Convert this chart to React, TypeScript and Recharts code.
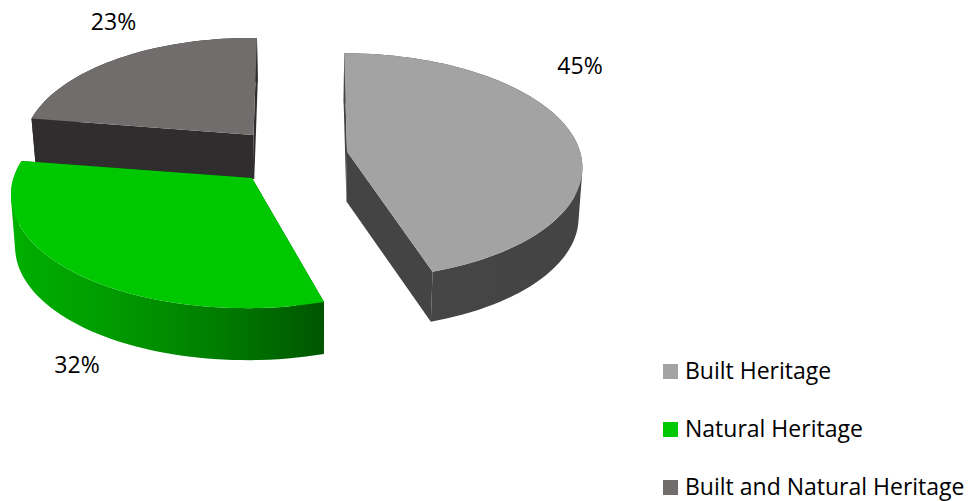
import { Legend, Pie, PieChart } from "recharts";

const categories = ["Built Heritage", "Natural Heritage", "Built and Natural Heritage"];
const shares = [45, 32, 23];

const WIDTH = 974;
const HEIGHT = 501;
const FONT = "'Open Sans', sans-serif";

// how much nearer points of the tilted disc grow, and where verticals converge below it
const PERSPECTIVE = 0.129;
const NADIR_X = 310;
const NADIR_SHRINK = 0.986;

type Look = {
  top: string;
  cut: string;
  wall: string[];
  apexX: number;
  apexY: number;
  horizonX: number;
  scaleX: number;
  scaleY: number;
  tilt: number;
  depth: number;
  labelDx: number;
  labelDy: number;
};

const looks: Record<string, Look> = {
  "Built Heritage": {
    top: "#a3a3a3",
    cut: "#444444",
    wall: ["#464646", "#444444"],
    apexX: 52,
    apexY: 1.5,
    horizonX: 322,
    scaleX: 1.0,
    scaleY: 0.476,
    tilt: 0,
    depth: 50,
    labelDx: 233,
    labelDy: -87,
  },
  "Natural Heritage": {
    top: "#00c800",
    cut: "#005500",
    wall: ["#00b000", "#009a00", "#007c00", "#005500"],
    apexX: -43,
    apexY: 28,
    horizonX: 335,
    scaleX: 1.019,
    scaleY: 0.487,
    tilt: 0.013,
    depth: 52,
    labelDx: -175,
    labelDy: 186,
  },
  "Built and Natural Heritage": {
    top: "#716d6c",
    cut: "#2f2d2e",
    wall: ["#2f2d2e", "#2f2d2e"],
    apexX: -41.5,
    apexY: -15,
    horizonX: 284,
    scaleX: 0.978,
    scaleY: 0.47,
    tilt: 0.013,
    depth: 44,
    labelDx: -140,
    labelDy: -114,
  },
};

// painted back to front, so the table runs opposite to the legend
const table = categories
  .map((name, i) => ({ name, value: shares[i], fill: looks[name].top }))
  .reverse();

const toPath = (pts: number[][]) =>
  pts.map((p, i) => `${i ? "L" : "M"}${p[0].toFixed(2)} ${p[1].toFixed(2)}`).join(" ") + " Z";

// every wall quad wound the same way, otherwise overlaps at the silhouette cancel out
const quadPath = (a: number[], b: number[], c: number[], d: number[]) => {
  const pts = [a, b, c, d];
  let area = 0;
  pts.forEach((p, i) => {
    const q = pts[(i + 1) % 4];
    area += p[0] * q[1] - q[0] * p[1];
  });
  return toPath(area < 0 ? pts.reverse() : pts);
};

function Slice3D(props: any) {
  const { cx, cy, outerRadius, startAngle, endAngle, name, index } = props;
  const look = looks[name] ?? looks[table[index].name];
  const apexX = cx + look.apexX;
  const apexY = cy + look.apexY;

  const onDisc = (deg: number) => {
    const u = Math.cos((deg * Math.PI) / 180);
    const v = -Math.sin((deg * Math.PI) / 180);
    const s = 1 / (1 - PERSPECTIVE * v);
    const x = look.horizonX + (apexX - look.horizonX + outerRadius * look.scaleX * u) * s;
    return [x, apexY + outerRadius * look.scaleY * v * s + (x - apexX) * look.tilt];
  };
  const drop = (p: number[]) => [NADIR_X + (p[0] - NADIR_X) * NADIR_SHRINK, p[1] + look.depth];

  const arc: number[][] = [];
  const steps = Math.ceil(Math.abs(endAngle - startAngle) / 2);
  for (let i = 0; i <= steps; i++) arc.push(onDisc(startAngle + ((endAngle - startAngle) * i) / steps));

  const apex = [apexX, apexY];
  const first = arc[0];
  const last = arc[arc.length - 1];
  const gradId = `wall-${index}`;
  const wallPath = arc
    .slice(1)
    .map((p, i) => quadPath(arc[i], p, drop(p), drop(arc[i])))
    .join(" ");

  return (
    <g>
      <defs>
        <linearGradient id={gradId} x1="0" y1="0" x2="1" y2="0">
          {look.wall.map((c, i) => (
            <stop key={i} offset={i / (look.wall.length - 1)} stopColor={c} />
          ))}
        </linearGradient>
      </defs>
      <path d={toPath([apex, first, drop(first), drop(apex)])} fill={look.cut} />
      <path d={toPath([apex, last, drop(last), drop(apex)])} fill={look.cut} />
      <path d={wallPath} fill={`url(#${gradId})`} />
      <path d={toPath([apex, ...arc])} fill={look.top} />
    </g>
  );
}

function PercentLabel(props: any) {
  const { cx, cy, value, name, index } = props;
  const look = looks[name] ?? looks[table[index].name];
  return (
    <text
      x={cx + look.apexX + look.labelDx}
      y={cy + look.apexY + look.labelDy}
      textAnchor="middle"
      dominantBaseline="central"
      fontFamily={FONT}
      fontSize={23}
      fill="#000000"
    >
      {value}%
    </text>
  );
}

function HeritageLegend(props: any) {
  const items = [...(props.payload ?? [])].sort(
    (a: any, b: any) => categories.indexOf(a.value) - categories.indexOf(b.value),
  );
  return (
    <div style={{ fontFamily: FONT, fontSize: 23, lineHeight: "23px", color: "#000000" }}>
      {items.map((item: any) => (
        <div key={item.value} style={{ display: "flex", alignItems: "center", height: 58 }}>
          <span style={{ width: 15, height: 15, background: item.color, marginRight: 7 }} />
          <span style={{ whiteSpace: "nowrap", position: "relative", top: -1 }}>{item.value}</span>
        </div>
      ))}
    </div>
  );
}

export default function App() {
  return (
    <div style={{ position: "absolute", left: 0, top: 0, width: WIDTH, height: HEIGHT, background: "#ffffff" }}>
      <PieChart width={WIDTH} height={HEIGHT} margin={{ top: 0, right: 0, bottom: 0, left: 0 }}>
        <Pie
          data={table}
          dataKey="value"
          nameKey="name"
          cx={295}
          cy={150}
          innerRadius={0}
          outerRadius={233}
          startAngle={90}
          endAngle={450}
          stroke="none"
          isAnimationActive={false}
          shape={Slice3D}
          label={PercentLabel}
          labelLine={false}
        />
        <Legend
          content={HeritageLegend}
          wrapperStyle={{ position: "absolute", left: 663, top: 342, width: 311, height: 159 }}
        />
      </PieChart>
    </div>
  );
}
